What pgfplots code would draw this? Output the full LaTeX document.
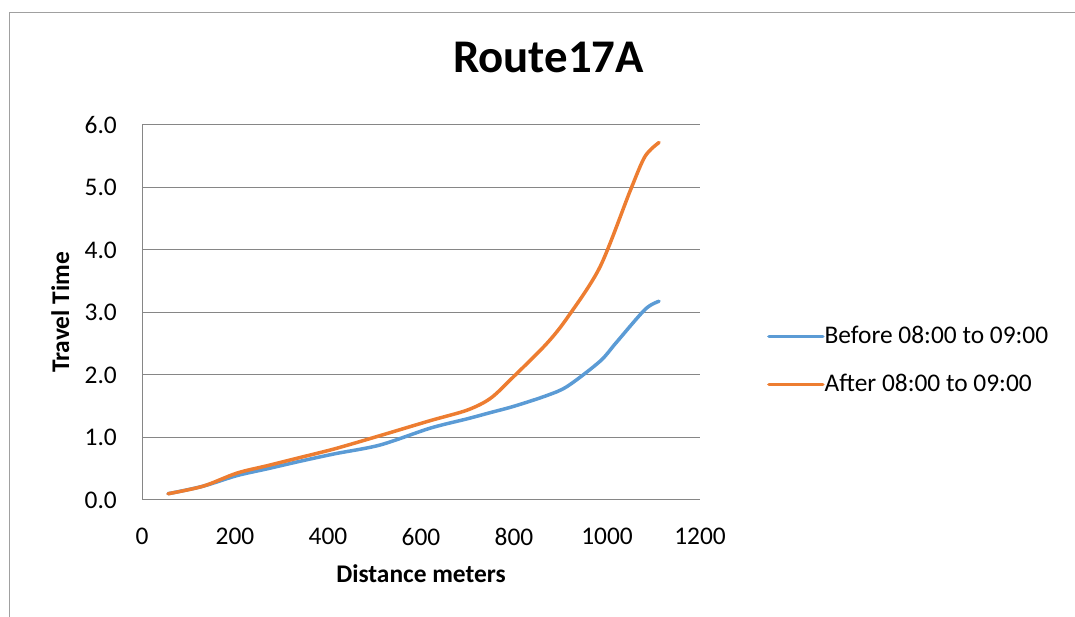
\documentclass[border=0pt]{standalone}
\usepackage{pgfplots}
\pgfplotsset{compat=1.18}
\usepackage{fontspec}
\setmainfont{Carlito}
\definecolor{xlblue}{RGB}{91,155,213}
\definecolor{xlorange}{RGB}{237,125,49}
\definecolor{xlgrid}{RGB}{134,134,134}
\definecolor{xlframe}{RGB}{160,160,160}
\begin{document}
\begin{tikzpicture}
\useasboundingbox (0,0) rectangle (1075bp,617bp);
% chart frame, cut at right and bottom
\draw[xlframe, line width=1bp] (9.5bp,0) -- (9.5bp,604.5bp) -- (1075bp,604.5bp);
\begin{axis}[
    at={(142bp,117bp)}, anchor=south west,
    scale only axis,
    width=558bp, height=375bp,
    xmin=0, xmax=1200, ymin=0, ymax=6,
    xtick={0,200,...,1200},
    ytick={0,1,...,6},
    yticklabel style={/pgf/number format/fixed, /pgf/number format/fixed zerofill, /pgf/number format/precision=1},
    xticklabel style={/pgf/number format/1000 sep={}},
    /pgf/number format/assume math mode=true,
    scaled ticks=false,
    major tick length=0pt,
    ymajorgrids,
    grid style={xlgrid, line width=1bp},
    axis x line*=bottom, axis y line*=left,
    axis line style={xlgrid, line width=1bp, -},
    ticklabel style={font=\fontsize{25.5}{30}\selectfont, inner sep=0pt},
    yticklabel style={anchor=east, xshift=-25bp},
    xticklabel style={anchor=north, yshift=-28bp},
    title={Route17A},
    title style={font=\fontsize{47}{54}\bfseries, at={(axis description cs:0.7285,1.1253)}, anchor=base},
    xlabel={Distance meters},
    xlabel style={font=\fontsize{25.5}{30}\bfseries, at={(axis description cs:0.5,-0.2205)}, anchor=base},
    ylabel={Travel Time},
    ylabel style={font=\fontsize{25.5}{30}\bfseries, at={(axis description cs:-0.1308,0.5)}, anchor=base},
    legend style={draw=none, fill=none, at={(axis description cs:1.12,0.372)}, anchor=west,
        inner sep=0pt, row sep=25bp,
        nodes={font=\fontsize{25.5}{30}\selectfont, inner sep=0pt, text height=18bp, text depth=5bp, xshift=5bp}},
    legend cell align=left,
    legend image code/.code={\draw[#1, line width=3.5bp] (0bp,0bp) -- (54bp,0bp);},
    every axis plot/.append style={line width=3.5bp, line cap=round, line join=round},
]
\addplot[xlblue, smooth, tension=0.5] coordinates {
(56,0.10) (131,0.22) (204,0.39) (270,0.50) (340,0.62) (415,0.74) (512,0.88)
(620,1.15) (700,1.30) (750,1.40) (800,1.50) (870,1.67) (915,1.82) (985,2.22)
(1020,2.52) (1082,3.05) (1112,3.18)
};
\addplot[xlorange, smooth, tension=0.5] coordinates {
(56,0.10) (131,0.22) (204,0.43) (270,0.55) (340,0.68) (415,0.82) (512,1.03)
(620,1.27) (700,1.44) (750,1.63) (800,1.98) (870,2.50) (915,2.92) (985,3.73)
(1050,4.95) (1082,5.50) (1112,5.72)
};
\legend{Before 08:00 to 09:00, After 08:00 to 09:00}
\end{axis}
\end{tikzpicture}
\end{document}
